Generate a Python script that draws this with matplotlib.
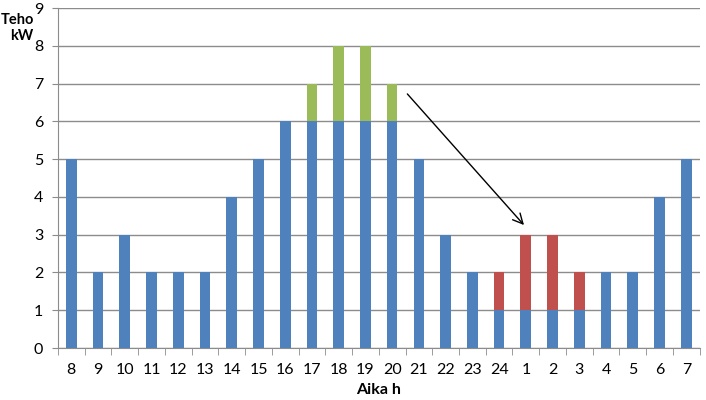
import matplotlib
matplotlib.use("Agg")
import matplotlib.pyplot as plt
import numpy as np

hours = ["8","9","10","11","12","13","14","15","16","17","18","19","20","21","22","23","24","1","2","3","4","5","6","7"]
base = [5,2,3,2,2,2,4,5,6,6,6,6,6,5,3,2,1,1,1,1,2,2,4,5]
green = [0,0,0,0,0,0,0,0,0,1,2,2,1,0,0,0,0,0,0,0,0,0,0,0]
red = [0,0,0,0,0,0,0,0,0,0,0,0,0,0,0,0,1,2,2,1,0,0,0,0]

plt.rcParams['font.family'] = ['Lato', 'DejaVu Sans']
fig = plt.figure(figsize=(7.06, 4.0), dpi=100)
ax = fig.add_axes([0.082, 0.13, 0.909, 0.85])

x = np.arange(len(hours))
w = 0.4
ax.bar(x, base, w, color="#4F81BD", zorder=3)
ax.bar(x, green, w, bottom=base, color="#9BBB59", zorder=3)
ax.bar(x, red, w, bottom=base, color="#C0504D", zorder=3)

ax.set_xlim(-0.5, len(hours) - 0.5)
ax.set_ylim(0, 9)
ax.set_yticks(range(10))
ax.yaxis.grid(True, color="#8c8c8c", linewidth=1, zorder=0)
ax.set_axisbelow(True)

ax.set_xticks(x)
ax.set_xticklabels(hours)
ax.set_xticks(np.arange(-0.5, len(hours)), minor=True)
ax.tick_params(axis='x', which='major', length=0, pad=11, labelsize=11.5)
ax.tick_params(axis='x', which='minor', length=5, color="#8c8c8c")
ax.tick_params(axis='y', length=4.5, color="#8c8c8c", labelsize=11.5, pad=6)

for s in ["top", "right"]:
    ax.spines[s].set_visible(False)
for s in ["left", "bottom"]:
    ax.spines[s].set_color("#8c8c8c")

ax.annotate("", xy=(17.0, 3.2), xytext=(12.5, 6.78),
            arrowprops=dict(arrowstyle="->", color="black", lw=1, mutation_scale=18), zorder=5)

fig.text(0.049, 0.95, "Teho", ha="right", va="center", fontsize=10.5, fontweight="bold")
fig.text(0.047, 0.91, "kW", ha="right", va="center", fontsize=10.5, fontweight="bold")
fig.text(0.536, 0.025, "Aika h", ha="center", va="center", fontsize=11.5, fontweight="bold")

fig.savefig("out.png", dpi=100)
